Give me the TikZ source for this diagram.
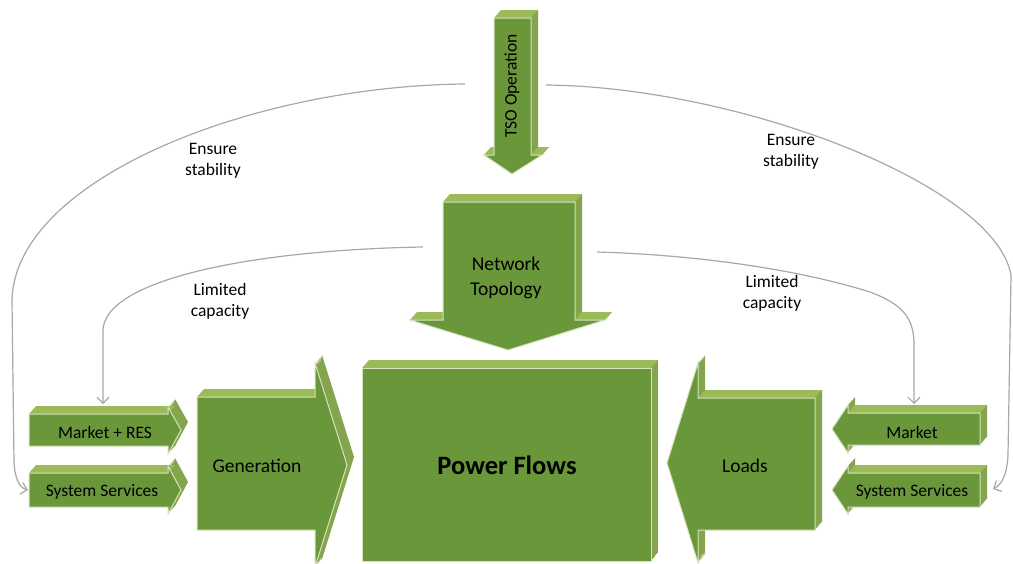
\documentclass[tikz,border=0pt]{standalone}
\usepackage{fontspec}
\setmainfont{Carlito}
\usetikzlibrary{arrows.meta}
\definecolor{frontc}{RGB}{105,151,58}
\definecolor{topc}{RGB}{155,187,89}
\definecolor{sidec}{RGB}{132,164,78}
\definecolor{edgec}{RGB}{214,227,188}
\definecolor{connc}{RGB}{168,168,168}
\tikzset{
  lbl/.style={font=\fontsize{17.5}{21}\selectfont, align=center, text=black, inner sep=0pt},
  bigtxt/.style={font=\fontsize{19.5}{25}\selectfont, align=center, text=black, inner sep=0pt},
  smalltxt/.style={font=\fontsize{17.5}{21}\selectfont, align=center, text=black, inner sep=0pt},
  connector/.style={draw=connc, line width=1.2pt, -{Straight Barb[length=6pt,width=12pt]}},
  frontface/.style={fill=frontc, draw=edgec, line width=1pt, line join=miter},
}
\newcommand{\sweepshape}[1]{%
  \foreach \k in {1,...,8}{\fill[sidec, shift={({0.875*\k},{-\k})}] #1;}%
}
\newcommand{\topq}[3]{%
  \fill[topc] (#1,#3) -- (#2,#3) -- ({#2+7},{#3-8}) -- ({#1+7},{#3-8}) -- cycle;%
}
\begin{document}
\begin{tikzpicture}[x=1pt,y=-1pt]
\useasboundingbox (0,0) rectangle (1013,563);
\clip (0,0) rectangle (1013,563);
\fill[white] (0,0) rectangle (1013,563);

% ---------- shapes ----------
\def\tsoP{(494,18) -- (531,18) -- (531,155) -- (542,155) -- (512,174) -- (484,155) -- (494,155) -- cycle}
\def\netP{(443,202) -- (575,202) -- (575,320) -- (605,320) -- (508,350) -- (410,320) -- (443,320) -- cycle}
\def\pfP{(362,368) -- (651,368) -- (651,561) -- (362,561) -- cycle}
\def\genP{(197,397) -- (315,397) -- (315,363) -- (347,465) -- (315,567) -- (315,530) -- (197,530) -- cycle}
\def\loadP{(815,398) -- (698,398) -- (698,363) -- (667,463) -- (698,563) -- (698,530) -- (815,530) -- cycle}
\def\mresP{(29,414) -- (168,414) -- (168,407) -- (181,430) -- (168,454) -- (168,446) -- (29,446) -- cycle}
\def\sslP{(29,473) -- (168,473) -- (168,466) -- (181,490) -- (168,514) -- (168,507) -- (29,507) -- cycle}
\def\mktP{(848,413) -- (980,413) -- (980,445) -- (848,445) -- (848,453) -- (832,429) -- (848,405) -- cycle}
\def\ssrP{(848,473) -- (980,473) -- (980,507) -- (848,507) -- (848,514) -- (832,490) -- (848,466) -- cycle}

\foreach \P in {\tsoP,\netP,\pfP,\genP,\loadP,\mresP,\sslP,\mktP,\ssrP}{
  \sweepshape{\P}
}
\topq{494}{531}{18}
\topq{484}{494}{155}
\topq{531}{542}{155}
\topq{443}{575}{202}
\topq{410}{443}{320}
\topq{575}{605}{320}
\topq{362}{651}{368}
\topq{197}{315}{397}
\topq{698}{815}{398}
\topq{29}{168}{414}
\topq{29}{168}{473}
\topq{848}{980}{413}
\topq{848}{980}{473}
\foreach \P in {\tsoP,\netP,\pfP,\genP,\loadP,\mresP,\sslP,\mktP,\ssrP}{
  \draw[frontface] \P;
}

% ---------- texts ----------
\node[smalltxt, rotate=90] (tso) at (512,86) {TSO Operation};
\node[bigtxt] (net) at (506,278) {Network\\Topology};
\node[font=\bfseries\fontsize{26.5}{30}\selectfont, text=black, inner sep=0pt] (pf) at (507,465) {Power Flows};
\node[bigtxt] (gen) at (257,466) {Generation};
\node[bigtxt] (loads) at (745,466) {Loads};
\node[smalltxt] (mres) at (105,432) {Market + RES};
\node[smalltxt] (ssl) at (102,492) {System Services};
\node[smalltxt] (mkt) at (912,432) {Market};
\node[smalltxt] (ssr) at (912,492) {System Services};

\node[lbl] (es1) at (213,161) {Ensure\\stability};
\node[lbl] (es2) at (791,152) {Ensure\\stability};
\node[lbl] (lc1) at (220,301) {Limited\\capacity};
\node[lbl] (lc2) at (772,293) {Limited\\capacity};

% ---------- connector ends ----------
\coordinate (tsoL) at (465,84);
\coordinate (tsoR) at (546,85);
\coordinate (netL) at (423,247);
\coordinate (netR) at (597,252);
\coordinate (mresN) at (103,404);
\coordinate (sslW) at (28,490);
\coordinate (mktN) at (914,404);
\coordinate (ssrE) at (993,489);

% ---------- connectors ----------
\draw[connector] (tsoL) .. controls (250,86) and (15,180) .. (12,300)
   -- (14,462) .. controls (15,480) and (20,488) .. (sslW);
\draw[connector] (tsoR) .. controls (740,87) and (995,185) .. (1011,275)
   -- (1008,455) .. controls (1007,476) and (1001,485) .. (ssrE);
\draw[connector] (netL) .. controls (250,250) and (105,280) .. (103,330) -- (mresN);
\draw[connector] (netR) .. controls (700,255) and (800,270) .. (870,292)
   .. controls (905,305) and (914,320) .. (914,345) -- (mktN);
\end{tikzpicture}
\end{document}
